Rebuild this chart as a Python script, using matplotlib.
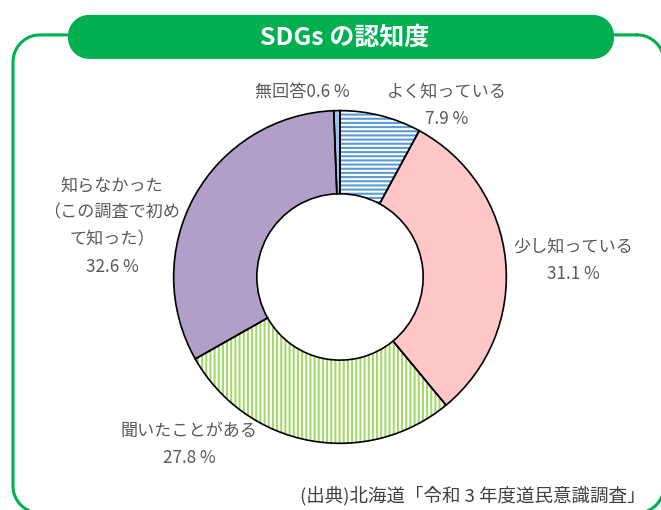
import matplotlib
matplotlib.use("Agg")
import matplotlib.pyplot as plt
import numpy as np

plt.rcParams['font.family'] = ['Noto Sans CJK JP', 'DejaVu Sans']
plt.rcParams['hatch.linewidth'] = 1.5

# data (clockwise from 12 o'clock)
labels = ['よく知っている', '少し知っている', '聞いたことがある',
          '知らなかった\n（この調査で初め\nて知った）', '無回答']
values = [7.9, 31.1, 27.8, 32.6, 0.6]
face_colors = ['white', '#FFC7C7', 'white', '#B09FC8', '#9DC3E6']
hatch_colors = ['#5B9BD5', 'none', '#A5D86A', 'none', 'none']
hatches = ['----', None, '||||', None, None]

title = 'SDGs の認知度'
source = '(出典)北海道「令和 3 年度道民意識調査」'

W, H = 661, 510
fig = plt.figure(figsize=(W / 100, H / 100 + 0.001), dpi=100)

# background layer in pixel coordinates, y measured from the top
bg = fig.add_axes([0, 0, 1, 1])
bg.set_xlim(0, W)
bg.set_ylim(H, 0)
bg.axis('off')

green = '#00B050'


def rounded_box(x0, y0, x1, y1, rad, n=30):
    # outline of a rounded rectangle (y grows downwards)
    pts = []
    corners = [(x1 - rad, y0 + rad, -90, 0), (x1 - rad, y1 - rad, 0, 90),
               (x0 + rad, y1 - rad, 90, 180), (x0 + rad, y0 + rad, 180, 270)]
    for cx_, cy_, a0, a1 in corners:
        t = np.radians(np.linspace(a0, a1, n))
        pts += list(zip(cx_ + rad * np.cos(t), cy_ + rad * np.sin(t)))
    pts.append(pts[0])
    return np.array(pts)


fr = rounded_box(13, 35, 664, 513, 27)
bg.plot(fr[:, 0], fr[:, 1], color=green, lw=2.2, solid_capstyle='round')

bn = rounded_box(68, 15, 614, 59, 21)
bg.fill(bn[:, 0], bn[:, 1], color=green, lw=0, zorder=3)
bg.text(345, 38, title, color='white', fontsize=18, fontweight='bold',
        ha='center', va='center', zorder=4)

gray = '#595959'
# label anchor (centre of text block, pixels from top-left)
label_pos = [(447, 105), (573, 260), (189, 444), (112, 226), (302, 92)]
for i, (lab, val) in enumerate(zip(labels, values)):
    x, y = label_pos[i]
    if i == 4:
        bg.text(x, y, f'{lab}{val} %', color=gray, fontsize=12.3,
                ha='center', va='center')
    else:
        bg.text(x, y, f'{lab}\n{val} %', color=gray, fontsize=12.3,
                ha='center', va='center', linespacing=1.65)

bg.text(645, 496, source, color='#404040', fontsize=13.3, ha='right', va='center')

# donut chart
cx, cy, r = 340, 277, 168
ax = fig.add_axes([(cx - r) / W, (H - cy - r) / H, 2 * r / W, 2 * r / H])
ax.patch.set_alpha(0)

wedges, _ = ax.pie(values, startangle=90, counterclock=False, radius=1,
                   colors=face_colors, wedgeprops=dict(width=0.5, lw=0))
for w, hc, h in zip(wedges, hatch_colors, hatches):
    if h:
        w.set_hatch(h)
        w.set_edgecolor(hc)
# outlines on top
outl, _ = ax.pie(values, startangle=90, counterclock=False, radius=1,
                 colors=['none'] * len(values),
                 wedgeprops=dict(width=0.5, lw=1.2, edgecolor='black', fill=False))
ax.set_xlim(-1.01, 1.01)
ax.set_ylim(-1.01, 1.01)
ax.set_aspect('auto')

fig.savefig('out.png', dpi=100)
